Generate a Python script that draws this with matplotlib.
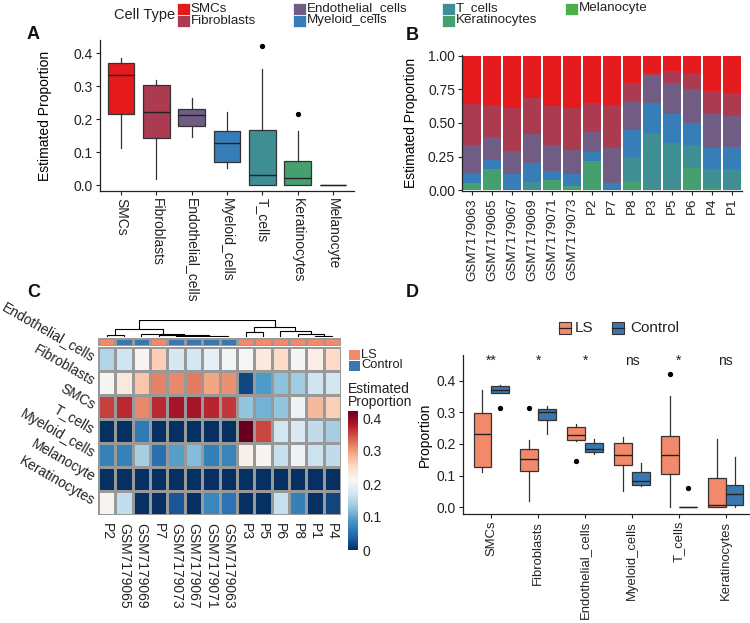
import numpy as np
import matplotlib
matplotlib.use("Agg")
import matplotlib.pyplot as plt
import matplotlib.colors as mcolors
from matplotlib.patches import Rectangle
from matplotlib.lines import Line2D
from matplotlib.cm import ScalarMappable

plt.rcParams['font.family'] = ['Liberation Sans', 'DejaVu Sans']

# ---------------- data ----------------
samples = ["GSM7179063", "GSM7179065", "GSM7179067", "GSM7179069", "GSM7179071",
           "GSM7179073", "P2", "P7", "P8", "P3", "P5", "P6", "P4", "P1"]
groups = ["Control"] * 6 + ["LS"] * 8

cell_types = ["SMCs", "Fibroblasts", "Endothelial_cells", "Myeloid_cells",
              "T_cells", "Keratinocytes", "Melanocyte"]

SMCs = [0.360, 0.370, 0.387, 0.313, 0.372, 0.387, 0.355, 0.370, 0.201, 0.127, 0.112, 0.127, 0.261, 0.280]
Fibroblasts = [0.307, 0.233, 0.320, 0.270, 0.295, 0.313, 0.213, 0.315, 0.136, 0.019, 0.091, 0.124, 0.173, 0.169]
Endothelial_cells = [0.206, 0.169, 0.174, 0.216, 0.192, 0.176, 0.147, 0.263, 0.214, 0.209, 0.231, 0.253, 0.253, 0.227]
Myeloid_cells = [0.072, 0.069, 0.119, 0.139, 0.067, 0.094, 0.069, 0.052, 0.201, 0.223, 0.214, 0.163, 0.157, 0.166]
T_cells = [0.0, 0.0, 0.0, 0.062, 0.0, 0.0, 0.0, 0.0, 0.181, 0.422, 0.352, 0.170, 0.139, 0.158]
Keratinocytes = [0.055, 0.159, 0.0, 0.0, 0.074, 0.030, 0.216, 0.0, 0.067, 0.0, 0.0, 0.163, 0.017, 0.0]
Melanocyte = [0.0] * 14

prop = {"SMCs": SMCs, "Fibroblasts": Fibroblasts, "Endothelial_cells": Endothelial_cells,
        "Myeloid_cells": Myeloid_cells, "T_cells": T_cells, "Keratinocytes": Keratinocytes,
        "Melanocyte": Melanocyte}

heatmap_rows = ["Endothelial_cells", "Fibroblasts", "SMCs", "T_cells",
                "Myeloid_cells", "Melanocyte", "Keratinocytes"]
heatmap_cols = ["P2", "GSM7179065", "GSM7179069", "P7", "GSM7179073", "GSM7179067",
                "GSM7179071", "GSM7179063", "P3", "P5", "P6", "P8", "P1", "P4"]
# column dendrogram merges (indices in heatmap column order, then merged nodes), height
dendro_merges = [(5, 6, 2), (4, 14, 3), (15, 7, 4), (12, 13, 4), (3, 16, 7),
                 (0, 1, 7), (2, 18, 10), (11, 17, 10), (8, 9, 15), (10, 21, 18),
                 (19, 20, 23), (22, 23, 30), (24, 25, 48)]

d_types = ["SMCs", "Fibroblasts", "Endothelial_cells", "Myeloid_cells", "T_cells", "Keratinocytes"]
d_signif = ["**", "*", "*", "ns", "*", "ns"]
group_levels = ["LS", "Control"]

# ---------------- styling ----------------
def ramp(cols, n):
    rgb = np.array([mcolors.to_rgb(c) for c in cols])
    out = []
    for v in np.linspace(0, len(cols) - 1, n):
        i = min(int(np.floor(v)), len(cols) - 2)
        f = v - i
        out.append(tuple(rgb[i] * (1 - f) + rgb[i + 1] * f))
    return out

type_colors = dict(zip(cell_types, ramp(["#E41A1C", "#377EB8", "#4DAF4A"], 7)))
group_colors = {"LS": "#F3896B", "Control": "#3B77AF"}
EDGE = "#333333"
TXT = "#222222"
FS = 10

W, H = 750, 623
fig = plt.figure(figsize=(W / 100, H / 100), dpi=100)


def fx(x):
    return x / W


def fy(y):
    return 1 - y / H


def axes_px(l, t, r, b):
    return fig.add_axes([l / W, 1 - b / H, (r - l) / W, (b - t) / H])


def classic(ax):
    for s in ["top", "right"]:
        ax.spines[s].set_visible(False)
    for s in ["left", "bottom"]:
        ax.spines[s].set_linewidth(0.9)
        ax.spines[s].set_color("#222222")
    ax.tick_params(length=3, width=0.8, pad=2, labelsize=FS, colors="#222222")


def style_box(bp, colors):
    for patch, c in zip(bp['boxes'], colors):
        patch.set_facecolor(c)
        patch.set_edgecolor(EDGE)
        patch.set_linewidth(0.9)
    for ln in bp['whiskers']:
        ln.set_color(EDGE)
        ln.set_linewidth(0.9)
    for ln in bp['medians']:
        ln.set_color("#222222")
        ln.set_linewidth(1.0)


flier = dict(marker='o', markersize=2.8, markerfacecolor='black', markeredgecolor='black')

# ---------------- Panel A ----------------
axA = axes_px(100, 40, 354, 191)
bp = axA.boxplot([prop[c] for c in cell_types], positions=np.arange(len(cell_types)),
                 widths=0.75, patch_artist=True, showcaps=False, flierprops=flier)
style_box(bp, [type_colors[c] for c in cell_types])
axA.set_xlim(-0.6, len(cell_types) - 0.4)
axA.set_ylim(-0.0173, 0.44)
classic(axA)
axA.set_yticks([0, 0.1, 0.2, 0.3, 0.4])
axA.set_yticklabels(["0.0", "0.1", "0.2", "0.3", "0.4"])
axA.set_xticks(np.arange(len(cell_types)))
axA.set_xticklabels(cell_types, rotation=-90, ha='left', va='center', rotation_mode='anchor')
axA.set_ylabel("Estimated Proportion", fontsize=FS)
axA.yaxis.set_label_coords((52 - 100) / 254, 0.5)

# ---------------- Panel B ----------------
axB = axes_px(462, 55, 742, 191)
xB = np.arange(len(samples))
bottom = np.zeros(len(samples))
for ct in reversed(cell_types):
    vals = np.array(prop[ct])
    axB.bar(xB, vals, width=0.92, bottom=bottom, color=type_colors[ct], linewidth=0)
    bottom += vals
axB.set_xlim(-0.5, len(samples) - 0.5)
axB.set_ylim(-0.006, 1.005)
classic(axB)
axB.set_yticks([0, 0.25, 0.5, 0.75, 1.0])
axB.set_yticklabels(["0.00", "0.25", "0.50", "0.75", "1.00"])
axB.set_xticks(xB)
axB.set_xticklabels(samples, rotation=90, ha='right', va='center', rotation_mode='anchor', fontsize=9.6)
axB.set_ylabel("Estimated Proportion", fontsize=FS)
axB.yaxis.set_label_coords((418 - 462) / 280, 0.5)

# ---------------- Panel C ----------------
ncol = len(heatmap_cols)
col_idx = [samples.index(s) for s in heatmap_cols]
M = np.array([[prop[r][k] for k in col_idx] for r in heatmap_rows])
vmax = M.max()
cmap = plt.get_cmap("RdBu_r")
norm = mcolors.Normalize(vmin=0, vmax=vmax)

axDen = axes_px(98, 320.5, 341, 337)
node_x = {i: i + 0.5 for i in range(ncol)}
node_h = {i: 0.0 for i in range(ncol)}
for k, (a, b, h) in enumerate(dendro_merges):
    xa, xb = node_x[a], node_x[b]
    axDen.plot([xa, xa, xb, xb], [node_h[a], h, h, node_h[b]], color='black', lw=0.8,
               solid_capstyle='butt')
    node_x[ncol + k] = (xa + xb) / 2
    node_h[ncol + k] = h
axDen.set_xlim(0, ncol)
axDen.set_ylim(0, max(m[2] for m in dendro_merges))
axDen.axis('off')

axAnn = axes_px(98, 337.5, 341, 345.8)
ann = np.array([[group_levels.index(groups[k]) for k in col_idx]])
axAnn.pcolormesh(ann, cmap=mcolors.ListedColormap([group_colors[g] for g in group_levels]),
                 vmin=-0.5, vmax=1.5, edgecolors='#999999', linewidth=0.8)
axAnn.set_xlim(0, ncol)
axAnn.axis('off')

axC = axes_px(98, 346.5, 341, 514.5)
axC.pcolormesh(M, cmap=cmap, norm=norm, edgecolors='#999999', linewidth=0.8)
axC.set_xlim(0, ncol)
axC.set_ylim(len(heatmap_rows), 0)
for s in axC.spines.values():
    s.set_visible(False)
axC.set_xticks(np.arange(ncol) + 0.5)
axC.set_xticklabels(heatmap_cols, rotation=-90, ha='left', va='center', rotation_mode='anchor')
axC.set_yticks(np.arange(len(heatmap_rows)) + 0.5)
axC.set_yticklabels(heatmap_rows, rotation=-30, ha='right', va='center', rotation_mode='anchor')
axC.tick_params(axis='x', length=0, pad=6, labelsize=FS, colors=TXT)
axC.tick_params(axis='y', length=0, pad=3, labelsize=FS, colors=TXT)

# annotation legend
for i, g in enumerate(group_levels):
    fig.add_artist(Rectangle((fx(349), fy(360 + 11 * i)), 11 / W, 10.5 / H, transform=fig.transFigure,
                             facecolor=group_colors[g], edgecolor='none'))
    fig.text(fx(361), fy(354.5 + 11 * i), g, fontsize=9.3, va='center', ha='left', color=TXT)
fig.text(fx(348), fy(382), "Estimated\nProportion", fontsize=FS, va='top', ha='left',
         linespacing=0.95, color=TXT)
cax = axes_px(348, 550 - vmax * 330, 358, 550)
cb = fig.colorbar(ScalarMappable(norm=norm, cmap=cmap), cax=cax)
cb.outline.set_visible(False)
cb.set_ticks([0, 0.1, 0.2, 0.3, 0.4])
cb.set_ticklabels(["0", "0.1", "0.2", "0.3", "0.4"])
cax.tick_params(length=0, pad=3, labelsize=FS, colors=TXT)

# ---------------- Panel D ----------------
axD = axes_px(463, 355, 754, 514)
off = 0.1875
for i, ct in enumerate(d_types):
    for j, g in enumerate(group_levels):
        vals = [prop[ct][k] for k in range(len(samples)) if groups[k] == g]
        bpd = axD.boxplot([vals], positions=[i + (-off if j == 0 else off)], widths=0.375,
                          patch_artist=True, showcaps=False, flierprops=flier)
        style_box(bpd, [group_colors[g]])
    axD.text(i, 0.462, d_signif[i], ha='center', va='center', fontsize=FS, color=TXT)
axD.set_xlim(-0.6, len(d_types) - 0.4)
axD.set_ylim(-0.0212, 0.481)
classic(axD)
axD.set_yticks([0, 0.1, 0.2, 0.3, 0.4])
axD.set_yticklabels(["0.0", "0.1", "0.2", "0.3", "0.4"])
axD.set_xticks(np.arange(len(d_types)))
axD.set_xticklabels(d_types, rotation=90, ha='right', va='center', rotation_mode='anchor', fontsize=9.4)
axD.set_ylabel("Proportion", fontsize=FS)
axD.yaxis.set_label_coords((432 - 463) / 291, 0.5)

# D legend
for g, gx, tx in [("LS", 559, 575), ("Control", 612, 630)]:
    fig.add_artist(Rectangle((fx(gx), fy(334)), 12 / W, 12 / H, transform=fig.transFigure,
                             facecolor=group_colors[g], edgecolor=EDGE, linewidth=0.8))
    fig.add_artist(Line2D([fx(gx), fx(gx + 12)], [fy(328), fy(328)], transform=fig.transFigure,
                          color="#222222", linewidth=0.9))
    fig.text(fx(tx), fy(328), g, fontsize=FS + 1, va='center', ha='left', color=TXT)

# ---------------- top legend ----------------
fig.text(fx(114), fy(15), "Cell Type", fontsize=FS + 0.5, va='center', ha='left', color=TXT)
leg_cols = [177, 293, 442, 565]
for k, ct in enumerate(cell_types):
    c, r = divmod(k, 2)
    x0 = leg_cols[c]
    y0 = 3.0 + 12.0 * r
    fig.add_artist(Rectangle((fx(x0), fy(y0 + 11.5)), 12.5 / W, 11.5 / H, transform=fig.transFigure,
                             facecolor=type_colors[ct], edgecolor='white', linewidth=0.5))
    fig.text(fx(x0 + 13.5), fy(y0 + 5.5), ct, fontsize=9.6, va='center', ha='left', color=TXT)

# ---------------- panel letters ----------------
for letter, lx, ly in [("A", 27, 39), ("B", 406, 40), ("C", 27, 297), ("D", 406, 297)]:
    fig.text(fx(lx), fy(ly), letter, fontsize=13, fontweight='bold', va='baseline', ha='left',
             color="#111111")

fig.savefig("out.png", dpi=100)
